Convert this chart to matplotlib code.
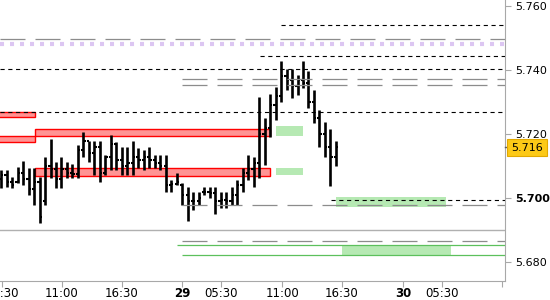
import matplotlib
matplotlib.use("Agg")
import matplotlib.pyplot as plt
import matplotlib.transforms as mtransforms
from matplotlib.patches import Rectangle

plt.rcParams['lines.scale_dashes'] = False
plt.rcParams['font.family'] = 'DejaVu Sans'

# barre OHLC (indice barra -> prezzi)
highs = [5.7088, 5.7088, 5.7066, 5.7097, 5.7116, 5.7094, 5.7094, 5.7066, 5.7128, 5.7184,
         5.7113, 5.7128, 5.7113, 5.7106, 5.7166, 5.7206, 5.7178, 5.7178, 5.7178, 5.7134,
         5.7197, 5.7175, 5.7159, 5.7159, 5.7178, 5.7156, 5.7150, 5.7159, 5.7134, 5.7134,
         5.7134, 5.7056, 5.7078, 5.7047, 5.7034, 5.7019, 5.7019, 5.7034, 5.7034, 5.7034,
         5.7019, 5.7019, 5.7034, 5.7056, 5.7094, 5.7134, 5.7128, 5.7316, 5.7250, 5.7325,
         5.7347, 5.7428, 5.7403, 5.7403, 5.7384, 5.7428, 5.7397, 5.7338, 5.7275, 5.7238,
         5.7216, 5.7178]
lows = [5.7031, 5.7034, 5.7031, 5.7047, 5.7041, 5.7009, 5.6978, 5.6922, 5.6978, 5.7063,
        5.7031, 5.7031, 5.7063, 5.7063, 5.7063, 5.7128, 5.7113, 5.7072, 5.7050, 5.7072,
        5.7088, 5.7088, 5.7072, 5.7072, 5.7072, 5.7094, 5.7088, 5.7094, 5.7094, 5.7088,
        5.7019, 5.7019, 5.7041, 5.6978, 5.6928, 5.6962, 5.6978, 5.7009, 5.7000, 5.6950,
        5.6969, 5.6969, 5.6978, 5.6978, 5.7019, 5.7056, 5.7034, 5.7063, 5.7103, 5.7191,
        5.7244, 5.7300, 5.7338, 5.7313, 5.7322, 5.7344, 5.7281, 5.7234, 5.7159, 5.7128,
        5.7038, 5.7100]
opens = [5.7060, 5.7072, 5.7050, 5.7050, 5.7080, 5.7060, 5.7030, 5.7050, 5.6990, 5.7100,
         5.7090, 5.7060, 5.7090, 5.7080, 5.7075, 5.7150, 5.7180, 5.7140, 5.7160, 5.7080,
         5.7130, 5.7170, 5.7120, 5.7100, 5.7110, 5.7130, 5.7120, 5.7130, 5.7120, 5.7110,
         5.7100, 5.7040, 5.7045, 5.7040, 5.7010, 5.6990, 5.6990, 5.7020, 5.7020, 5.7015,
         5.6990, 5.6995, 5.6990, 5.7010, 5.7040, 5.7080, 5.7090, 5.7110, 5.7200, 5.7220,
         5.7290, 5.7320, 5.7380, 5.7370, 5.7350, 5.7370, 5.7360, 5.7300, 5.7250, 5.7200,
         5.7160, 5.7130]
closes = [5.7072, 5.7050, 5.7040, 5.7080, 5.7060, 5.7030, 5.7050, 5.6940, 5.7100, 5.7090,
          5.7060, 5.7090, 5.7080, 5.7075, 5.7150, 5.7180, 5.7140, 5.7160, 5.7080, 5.7130,
          5.7170, 5.7120, 5.7100, 5.7110, 5.7130, 5.7120, 5.7130, 5.7120, 5.7110, 5.7100,
          5.7040, 5.7045, 5.7050, 5.7010, 5.6990, 5.6990, 5.7000, 5.7020, 5.7015, 5.6990,
          5.6995, 5.6990, 5.7010, 5.7040, 5.7080, 5.7090, 5.7110, 5.7200, 5.7220, 5.7290,
          5.7320, 5.7380, 5.7370, 5.7350, 5.7370, 5.7360, 5.7300, 5.7250, 5.7200, 5.7160,
          5.7130, 5.7160]

# etichette asse x
xtick_pos = [0.18, 11.1, 22.0, 33.0, 40.1, 51.2, 62.1, 73.2, 80.3, 91.3]
xtick_lab = ['05:30', '11:00', '16:30', '29', '05:30', '11:00', '16:30', '30', '05:30', '']
ytick_pos = [5.68, 5.70, 5.72, 5.74, 5.76]
prezzo_ultimo = 5.716

# livelli orizzontali: (prezzo, inizio in barre)
livelli_neri = [(5.7541, 51.0), (5.7444, 47.2), (5.7403, -1), (5.7268, -1), (5.6995, 60.1)]
livelli_grigi = [(5.7496, -1), (5.7371, 33.0), (5.7352, 33.0), (5.6977, 33.0), (5.6867, 33.0)]
livello_viola = 5.7482
livello_grigio_pieno = 5.6900
livelli_verdi = [(5.6852, 32.0), (5.6821, 32.9)]

# zone rosse e verdi: (x0, x1, prezzo basso, prezzo alto)
zone_rosse = [(-1, 6.25, 5.7252, 5.7270), (-1, 6.25, 5.7174, 5.7194),
              (6.25, 49.05, 5.7195, 5.7215), (6.25, 49.05, 5.7070, 5.7094)]
zone_verdi = [(50.1, 54.95, 5.7195, 5.7225), (50.1, 54.95, 5.7073, 5.7094),
              (61.0, 81.0, 5.6973, 5.7002), (62.1, 82.0, 5.6821, 5.6852)]

XMIN, XMAX = -0.2, 91.8

fig = plt.figure(figsize=(5.5, 3), dpi=100)
ax = fig.add_axes([0, 19 / 300, 505 / 550, 281 / 300])
ax.set_xlim(XMIN, XMAX)
ax.set_ylim(5.6741, 5.7619)

for x0, x1, y0, y1 in zone_rosse:
    ax.add_patch(Rectangle((x0, y0), x1 - x0, y1 - y0, facecolor='#ff9494',
                           edgecolor='#ff0000', lw=1, zorder=1))
for x0, x1, y0, y1 in zone_verdi:
    ax.add_patch(Rectangle((x0, y0), x1 - x0, y1 - y0, facecolor='#b6e9b3',
                           edgecolor='none', zorder=1))

# barre
idx = range(len(highs))
ax.vlines(idx, lows, highs, color='black', lw=1.9, zorder=3)
ax.hlines(opens, [i - 0.4 for i in idx], list(idx), color='black', lw=1.5, zorder=3)
ax.hlines(closes, list(idx), [i + 0.4 for i in idx], color='black', lw=1.5, zorder=3)

ax.axhline(livello_grigio_pieno, color='#b0b0b0', lw=1, zorder=2)
ax.axhline(livello_viola, color='#dcc6f2', lw=3, linestyle=(0, (2.9, 4.3)),
           solid_capstyle='butt', dash_capstyle='butt', zorder=2)
for y, x0 in livelli_grigi:
    ax.hlines(y, max(x0, XMIN), XMAX, color='#8c8c8c', lw=0.9,
              linestyles=[(0, (18, 7.2))], zorder=4)
for y, x0 in livelli_neri:
    ax.hlines(y, max(x0, XMIN), XMAX, color='black', lw=0.8,
              linestyles=[(0, (3, 2.6))], zorder=4)
for y, x0 in livelli_verdi:
    ax.hlines(y, x0, XMAX, color='#5cc05c', lw=0.9, zorder=2)

# assi
for s in ['top', 'left']:
    ax.spines[s].set_visible(False)
for s in ['right', 'bottom']:
    ax.spines[s].set_color('#a8a8a8')
ax.yaxis.tick_right()
ax.set_yticks(ytick_pos)
ax.set_yticklabels(['%.3f' % v for v in ytick_pos])
ax.set_xticks(xtick_pos)
ax.set_xticklabels(xtick_lab)
ax.tick_params(axis='both', colors='#a8a8a8', labelcolor='black', labelsize=8.5,
               length=4, direction='out')
ax.tick_params(axis='y', pad=3, labelsize=8)
ax.tick_params(axis='x', pad=0.5)
for t in ax.get_yticklabels():
    if t.get_text() == '5.700':
        t.set_fontweight('bold')
for t in ax.get_xticklabels():
    if t.get_text() in ('29', '30'):
        t.set_fontweight('bold')

# etichetta ultimo prezzo
trans = mtransforms.blended_transform_factory(ax.transAxes, ax.transData)
ax.plot([1.0, 1.008], [prezzo_ultimo, prezzo_ultimo], transform=trans, color='#606060',
        lw=1, clip_on=False, zorder=9)
ax.text(1.012, prezzo_ultimo - 0.0002, '%.3f' % prezzo_ultimo, transform=trans, fontsize=8,
        va='center', ha='left', clip_on=False, zorder=10,
        bbox=dict(boxstyle='square,pad=0.35', facecolor='#fcc917', edgecolor='#e2a800', lw=0.8))

fig.savefig('out.png', dpi=100)
